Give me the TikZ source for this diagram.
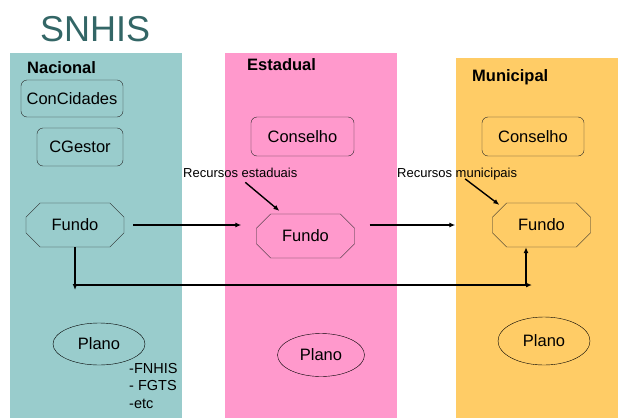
\documentclass[tikz,border=0pt]{standalone}
\usepackage{fontspec}
\setmainfont{Liberation Sans}
\usepackage{tikz}
\usetikzlibrary{
  arrows.meta,
  calc,
  positioning,
  shapes.geometric,
  shapes.misc
}
\definecolor{nacteal}{RGB}{153,204,204}
\definecolor{estpink}{RGB}{255,153,204}
\definecolor{munorange}{RGB}{255,204,102}
\definecolor{titleteal}{RGB}{51,102,102}
\definecolor{edgegray}{RGB}{40,40,40}
\tikzset{
  sphere/.style={font=\fontsize{16.5}{18}\selectfont\bfseries,
    anchor=base west,inner sep=0pt},
  orgbox/.style={draw=edgegray,thin,rounded corners=6pt,
    font=\fontsize{16.5}{18}\selectfont,inner sep=0pt},
  fundobox/.style={chamfered rectangle,chamfered rectangle xsep=8pt,
    chamfered rectangle ysep=8pt,draw=edgegray,thin,
    minimum width=98pt,minimum height=44pt,
    font=\fontsize{16.5}{18}\selectfont,inner sep=0pt},
  planobox/.style={ellipse,draw=black,thin,
    font=\fontsize{16.5}{18}\selectfont,inner sep=0pt},
  note/.style={font=\fontsize{13}{15}\selectfont,
    anchor=base west,inner sep=0pt},
  fontlist/.style={font=\fontsize{14.5}{17.5}\selectfont,align=left,
    anchor=north west,inner sep=0pt},
  flow/.style={-{Latex[length=6pt,width=5pt]},line width=1.2pt},
  bus/.style={-{Latex[length=6pt,width=5pt]},line width=2pt},
  feed/.style={-{Latex[length=6pt,width=5pt]},line width=1.4pt}
}

\begin{document}
\begin{tikzpicture}[x=1pt,y=-1pt]
  \useasboundingbox (0,0) rectangle (618,418);
  \fill[nacteal] (10,53) rectangle (182,418);
  \fill[estpink] (225,53) rectangle (397,418);
  \fill[munorange] (456,58) rectangle (618,418);

  \node[anchor=base west,inner sep=0pt,text=titleteal,
    font=\fontsize{36}{40}\selectfont] (title) at (40,41) {SNHIS};
  \node[sphere] (nac) at (27,73) {Nacional};
  \node[sphere] (est) at (247,70) {Estadual};
  \node[sphere] (mun) at (472,81) {Municipal};

  \node[orgbox,minimum width=102pt,minimum height=37pt] (cc) at (72,98.5) {ConCidades};
  \node[orgbox,minimum width=86pt,minimum height=38pt] (cg) at (80,147) {CGestor};
  \node[orgbox,minimum width=103pt,minimum height=39pt] (ce) at (302.5,136.5) {Conselho};
  \node[orgbox,minimum width=102pt,minimum height=39pt] (cm) at (533,136.5) {Conselho};

  \node[fundobox] (fn) at (75,225) {Fundo};
  \node[fundobox] (fe) at (305.5,236) {Fundo};
  \node[fundobox] (fm) at (541.5,225) {Fundo};

  \node[planobox,minimum width=92pt,minimum height=42pt] (pn) at (99,344) {Plano};
  \node[planobox,minimum width=87pt,minimum height=43pt] (pe) at (321,355) {Plano};
  \node[planobox,minimum width=92pt,minimum height=48pt] (pm) at (544,341) {Plano};

  \node[note] (re) at (183,177) {Recursos estaduais};
  \node[note] (rm) at (397,177) {Recursos municipais};
  \node[fontlist] (src) at (129,363) {-FNHIS\\- FGTS\\-etc};

  \coordinate (jn) at (75,290);
  \coordinate (jm) at (532,285);
  \coordinate (up) at (526,285);

  \draw[flow,shorten <=9pt,shorten >=15pt] (fn.east) -- (fn.east -| fe.west);
  \draw[flow,shorten <=15pt,shorten >=37pt] (fn.east -| fe.east) -- (fn.east -| fm.west);
  \draw[bus] (fn.south) -- (jn);
  \draw[bus] (jn |- jm) -- (jm);
  \draw[bus] (up) -- (up |- fm.south);
  \draw[feed] ($(re.south)+(5,5)$) -- ($(fe.north west)+(16,-10)$);
  \draw[feed] ($(rm.south)+(8,-1)$) -- ($(fm.north west)+(0,-5)$);
\end{tikzpicture}
\end{document}
